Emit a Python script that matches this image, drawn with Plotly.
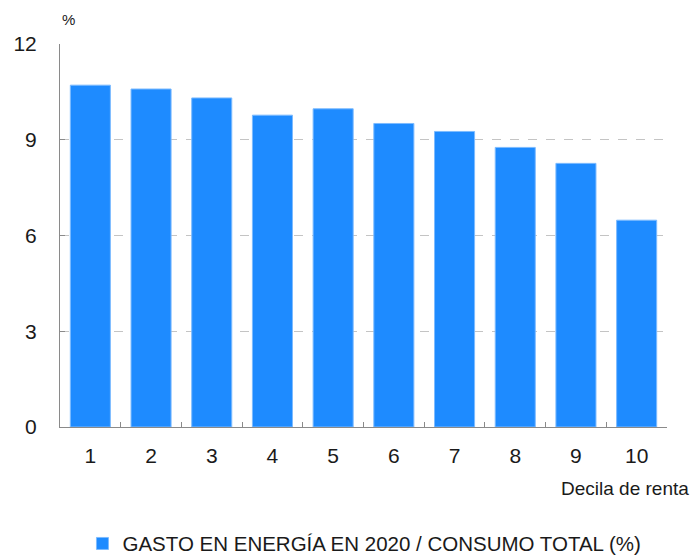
import plotly.graph_objects as go

# Energy spending share by income decile
deciles = ["1", "2", "3", "4", "5", "6", "7", "8", "9", "10"]
energy_share = [10.71, 10.59, 10.31, 9.77, 9.97, 9.51, 9.26, 8.76, 8.26, 6.48]
y_ticks = [0, 3, 6, 9, 12]
series_name = "GASTO EN ENERGÍA EN 2020 / CONSUMO TOTAL (%)"

FONT = "Liberation Sans, Arial, sans-serif"
BLUE = "#1e8bff"
AXIS = "#8a8a8a"
TEXT = "#1a1a1a"

fig = go.Figure(
    go.Bar(
        x=deciles,
        y=energy_share,
        name=series_name,
        marker=dict(color=BLUE, line=dict(color="#7dbbff", width=1)),
        width=0.66,
        showlegend=True,
    )
)

fig.update_layout(
    width=692,
    height=557,
    margin=dict(l=60, r=25, t=44, b=130, autoexpand=False),
    paper_bgcolor="white",
    plot_bgcolor="white",
    font=dict(family=FONT, color=TEXT),
    showlegend=True,
    legend=dict(
        orientation="h",
        xref="paper",
        x=0.037,
        xanchor="left",
        yref="container",
        y=0.024,
        yanchor="middle",
        font=dict(size=20.5, family=FONT, color=TEXT),
        itemwidth=30,
        bgcolor="rgba(0,0,0,0)",
    ),
    xaxis=dict(
        type="category",
        showline=True,
        linecolor=AXIS,
        linewidth=1,
        ticks="inside",
        tickson="boundaries",
        ticklen=5,
        tickcolor=AXIS,
        tickfont=dict(size=21, family=FONT, color=TEXT),
        ticklabelstandoff=10,
        showgrid=False,
        zeroline=False,
    ),
    yaxis=dict(
        range=[0, 12],
        tickvals=y_ticks,
        showline=True,
        linecolor=AXIS,
        linewidth=1,
        ticks="inside",
        ticklen=5,
        tickcolor=AXIS,
        tickfont=dict(size=21, family=FONT, color=TEXT),
        ticklabelstandoff=18,
        showgrid=True,
        gridcolor="#c4c4c4",
        griddash="dash",
        gridwidth=1,
        zeroline=False,
    ),
    annotations=[
        dict(
            text="%",
            xref="paper", yref="paper",
            x=0.0, y=1.0,
            xanchor="left", yanchor="bottom",
            xshift=0, yshift=14,
            showarrow=False,
            font=dict(size=15, family=FONT, color=TEXT),
        ),
        dict(
            text="Decila de renta",
            xref="paper", yref="paper",
            x=1.0, y=0.0,
            xanchor="right", yanchor="middle",
            xshift=24, yshift=-61,
            showarrow=False,
            font=dict(size=19, family=FONT, color=TEXT),
        ),
    ],
)

fig.write_html("out.html")
